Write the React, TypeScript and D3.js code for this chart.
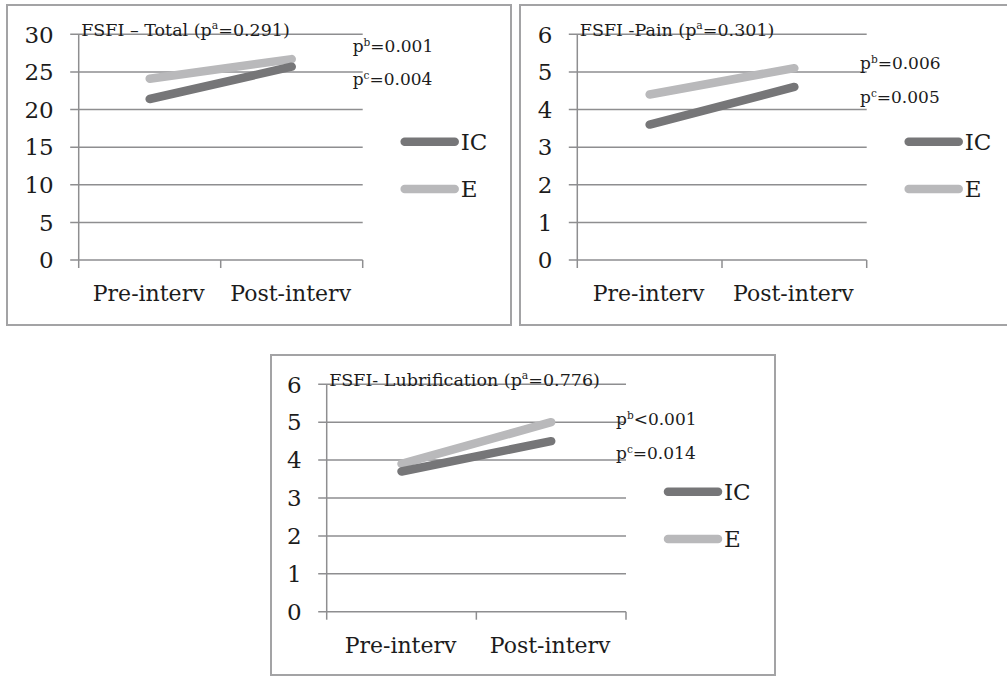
import * as d3 from "d3";
import { useRef, useEffect } from "react";

// categories and values
const categories = ["Pre-interv", "Post-interv"];
const seriesNames = ["IC", "E"];

const totalIC = [21.4, 25.7];
const totalE = [24.1, 26.7];
const painIC = [3.6, 4.6];
const painE = [4.4, 5.1];
const lubIC = [3.7, 4.5];
const lubE = [3.9, 5.0];

const totalTicks = [0, 5, 10, 15, 20, 25, 30];
const smallTicks = [0, 1, 2, 3, 4, 5, 6];

const colors = { IC: "#767678", E: "#b9b9bb" };
const FONT = "'DejaVu Serif', serif";
const INK = "#1c1c1c";

// panel layout (box + plot area)
const panels = [
  {
    box: [7, 5, 511, 325],
    x0: 78.7, x1: 362.7, yTop: 34.3, yBottom: 260,
    ticks: totalTicks, ic: totalIC, e: totalE,
    title: ["FSFI – Total (p", "a", "=0.291)"],
    pb: ["p", "b", "=0.001"], pc: ["p", "c", "=0.004"],
    pX: 352.7, pbY: 52, pcY: 85,
  },
  {
    box: [520, 5, 1012, 325],
    x0: 577.3, x1: 866.7, yTop: 34.3, yBottom: 260,
    ticks: smallTicks, ic: painIC, e: painE,
    title: ["FSFI -Pain (p", "a", "=0.301)"],
    pb: ["p", "b", "=0.006"], pc: ["p", "c", "=0.005"],
    pX: 860, pbY: 69, pcY: 103,
  },
  {
    box: [271, 355, 775, 675],
    x0: 326.7, x1: 626, yTop: 384.3, yBottom: 611.7,
    ticks: smallTicks, ic: lubIC, e: lubE,
    title: ["FSFI- Lubrification (p", "a", "=0.776)"],
    pb: ["p", "b", "<0.001"], pc: ["p", "c", "=0.014"],
    pX: 616, pbY: 425, pcY: 459,
  },
];

const supText = (g, x, y, parts, size) => {
  const t = g.append("text")
    .attr("x", x).attr("y", y)
    .attr("font-family", FONT).attr("font-size", size)
    .attr("fill", INK);
  t.append("tspan").text(parts[0]);
  t.append("tspan").attr("dy", -size * 0.38).attr("font-size", size * 0.62).text(parts[1]);
  t.append("tspan").attr("dy", size * 0.38).text(parts[2]);
};

const App = () => {
  const svgRef = useRef(null);

  useEffect(() => {
    const svg = d3.select(svgRef.current);
    svg.selectAll("*").remove();

    panels.forEach((p) => {
      const g = svg.append("g");
      const [bx0, by0, bx1, by1] = p.box;
      g.append("rect")
        .attr("x", bx0).attr("y", by0)
        .attr("width", bx1 - bx0).attr("height", by1 - by0)
        .attr("fill", "white").attr("stroke", "#a3a3a5").attr("stroke-width", 2);

      const maxV = d3.max(p.ticks);
      const y = d3.scaleLinear().domain([0, maxV]).range([p.yBottom, p.yTop]);
      const x = d3.scaleBand().domain(categories).range([p.x0, p.x1]).padding(0);

      // gridlines + y ticks
      p.ticks.forEach((t) => {
        g.append("line")
          .attr("x1", p.x0 - 8.5).attr("x2", p.x1)
          .attr("y1", y(t)).attr("y2", y(t))
          .attr("stroke", "#8e8e90").attr("stroke-width", 1.5);
        g.append("text")
          .attr("x", p.x0 - 25).attr("y", y(t)).attr("dy", "0.36em")
          .attr("text-anchor", "end")
          .attr("font-family", FONT).attr("font-size", 23).attr("fill", INK)
          .text(t);
      });

      // y axis line + x ticks
      g.append("line")
        .attr("x1", p.x0).attr("x2", p.x0)
        .attr("y1", p.yTop).attr("y2", p.yBottom + 8)
        .attr("stroke", "#8e8e90").attr("stroke-width", 1.5);
      [x.bandwidth() + p.x0, p.x1].forEach((tx) => {
        g.append("line")
          .attr("x1", tx).attr("x2", tx)
          .attr("y1", p.yBottom).attr("y2", p.yBottom + 8)
          .attr("stroke", "#8e8e90").attr("stroke-width", 1.5);
      });

      categories.forEach((c) => {
        g.append("text")
          .attr("x", x(c) + x.bandwidth() / 2 - 1)
          .attr("y", p.yBottom + 41)
          .attr("text-anchor", "middle")
          .attr("font-family", FONT).attr("font-size", 22).attr("fill", INK)
          .text(c);
      });

      // series lines
      const line = d3.line()
        .x((d, i) => x(categories[i]) + x.bandwidth() / 2)
        .y((d) => y(d));
      [["E", p.e], ["IC", p.ic]].forEach(([name, vals]) => {
        g.append("path")
          .attr("d", line(vals))
          .attr("fill", "none")
          .attr("stroke", colors[name])
          .attr("stroke-width", 8.5)
          .attr("stroke-linecap", "round");
      });

      // title + p values
      supText(g, p.x0 + 2.5, p.yTop + 1.5, p.title, 17.5);
      supText(g, p.pX, p.pbY, p.pb, 17);
      supText(g, p.pX, p.pcY, p.pc, 17);

      // legend
      seriesNames.forEach((name, i) => {
        const ly = p.yTop + 107.5 + i * 47.3;
        const lx = p.x1 + 39;
        g.append("line")
          .attr("x1", lx + 3).attr("x2", lx + 53)
          .attr("y1", ly).attr("y2", ly)
          .attr("stroke", colors[name]).attr("stroke-width", 8.5)
          .attr("stroke-linecap", "round");
        g.append("text")
          .attr("x", lx + 59).attr("y", ly).attr("dy", "0.36em")
          .attr("font-family", FONT).attr("font-size", 23).attr("fill", INK)
          .text(name);
      });
    });
  }, []);

  return (
    <svg
      ref={svgRef}
      width={1007}
      height={677}
      style={{ position: "absolute", left: 0, top: 0, background: "white" }}
    />
  );
};

export default App;
